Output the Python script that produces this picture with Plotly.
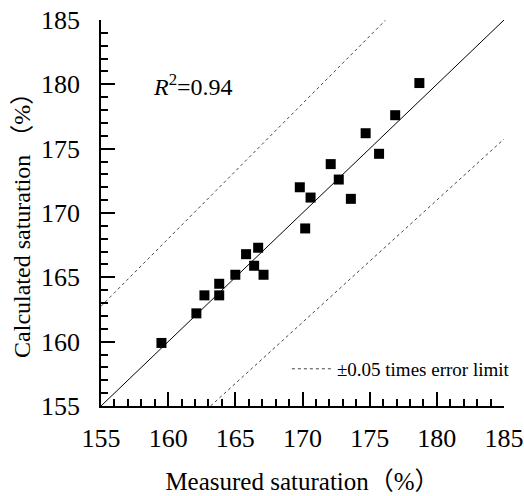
import plotly.graph_objects as go

measured = [159.5, 162.1, 162.7, 163.8, 163.8, 165.0, 165.8, 166.4, 167.1, 166.7,
            170.2, 169.8, 170.6, 172.1, 172.7, 173.6, 174.7, 175.7, 176.9, 178.7]
calculated = [159.9, 162.2, 163.6, 164.5, 163.6, 165.2, 166.8, 165.9, 165.2, 167.3,
              168.8, 172.0, 171.2, 173.8, 172.6, 171.1, 176.2, 174.6, 177.6, 180.1]

axis_min, axis_max = 155, 185
ticks = [155, 160, 165, 170, 175, 180, 185]
error_factor = 0.05

FONT = "Liberation Serif, Times New Roman, Noto Sans CJK SC, serif"

fig = go.Figure()

# 1:1 line
fig.add_trace(go.Scatter(x=[axis_min, axis_max], y=[axis_min, axis_max], mode="lines",
                         line=dict(color="black", width=1), showlegend=False, hoverinfo="skip"))
# upper error limit y = 1.05x
up_x = [axis_min, axis_max / (1 + error_factor)]
fig.add_trace(go.Scatter(x=up_x, y=[v * (1 + error_factor) for v in up_x], mode="lines",
                         line=dict(color="#444", width=1, dash="3px,3px"),
                         name="±0.05 times error limit", showlegend=True, hoverinfo="skip"))
# lower error limit y = 0.95x
lo_x = [axis_min / (1 - error_factor), axis_max]
fig.add_trace(go.Scatter(x=lo_x, y=[v * (1 - error_factor) for v in lo_x], mode="lines",
                         line=dict(color="#444", width=1, dash="3px,3px"),
                         showlegend=False, hoverinfo="skip"))
# data points
fig.add_trace(go.Scatter(x=measured, y=calculated, mode="markers",
                         marker=dict(symbol="square", size=10, color="black"),
                         showlegend=False))

axis_common = dict(
    range=[axis_min, axis_max], tickvals=ticks, showline=True, linecolor="black", linewidth=1.5,
    ticks="inside", ticklen=14, tickwidth=1.5, tickcolor="black",
    minor=dict(ticks="inside", ticklen=7, tickwidth=1.5, dtick=1, tickcolor="black", showgrid=False),
    showgrid=False, zeroline=False, mirror=False, automargin=False,
    tickfont=dict(family=FONT, size=26, color="black"),
)

fig.update_layout(
    width=524, height=496,
    margin=dict(l=101, r=20, t=20, b=90, autoexpand=False),
    paper_bgcolor="white", plot_bgcolor="white",
    xaxis=dict(**axis_common, ticklabelstandoff=8,
               title=dict(text="Measured saturation（%）", font=dict(family=FONT, size=25, color="black"),
                          standoff=21)),
    yaxis=dict(**axis_common, ticklabelstandoff=14),
    legend=dict(x=1.027, xanchor="right", y=0.096, yanchor="middle", bgcolor="rgba(0,0,0,0)",
                font=dict(family=FONT, size=19, color="black"), itemwidth=40),
    annotations=[
        dict(x=0.125, y=0.832, xref="paper", yref="paper", xanchor="left", yanchor="middle",
             text="<i>R</i><sup>2</sup>=0.94", showarrow=False,
             font=dict(family=FONT, size=24, color="black")),
        dict(x=(22 - 101) / 403, y=0.482, xref="paper", yref="paper", showarrow=False,
             xanchor="center", yanchor="middle",
             text="Calculated saturation （%）", textangle=-90,
             font=dict(family=FONT, size=24, color="black")),
    ],
)

fig.write_html("out.html")
